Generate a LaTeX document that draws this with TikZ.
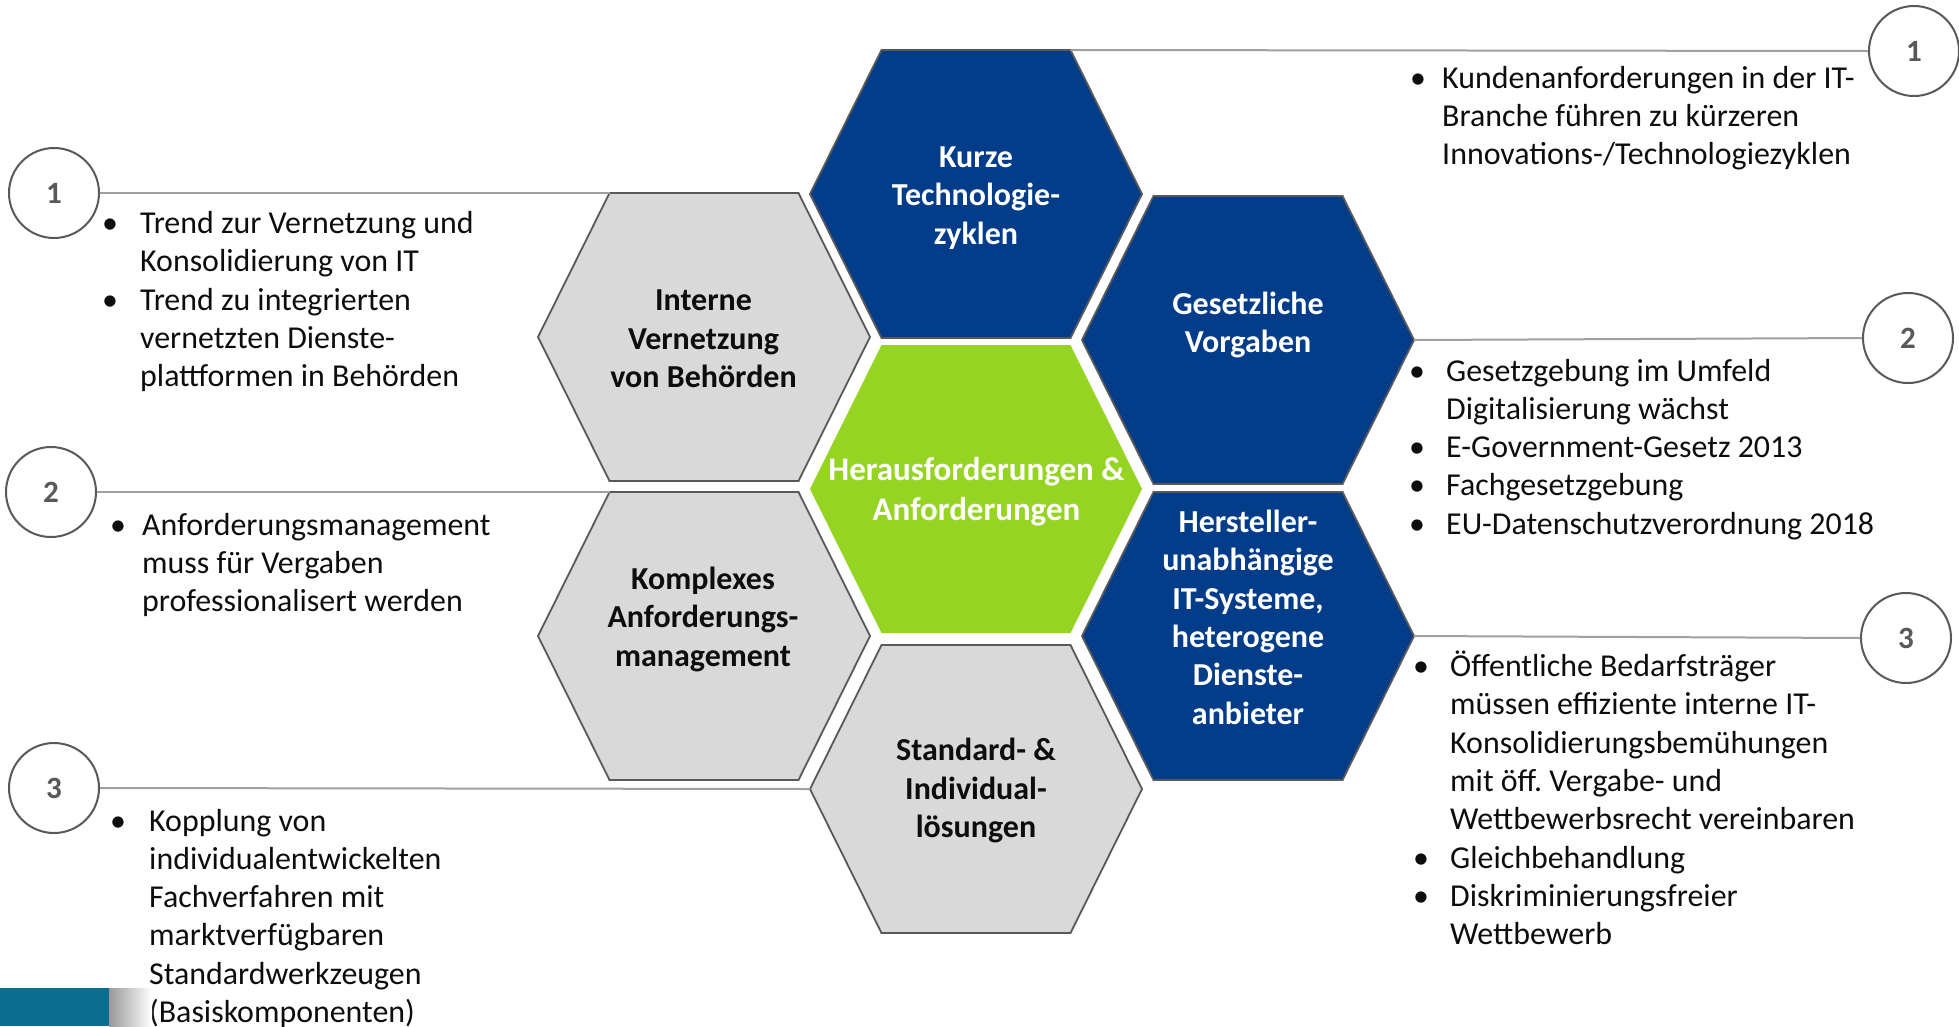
\documentclass[tikz,border=0pt]{standalone}
\usepackage{fontspec}
\setmainfont{Carlito}
\usetikzlibrary{calc}
\frenchspacing
\definecolor{hexblue}{RGB}{3,60,136}
\definecolor{hexgreen}{RGB}{150,212,36}
\definecolor{hexgrey}{RGB}{217,217,217}
\definecolor{edgegrey}{RGB}{89,89,89}
\definecolor{linegrey}{RGB}{160,160,160}
\definecolor{barteal}{RGB}{11,110,143}
\definecolor{txtblack}{RGB}{13,13,13}
\newcommand{\hexcell}[4]{%
  \path[#4] ({#2-166},{#3}) -- ({#2-94.5},{#3-144}) -- ({#2+94.5},{#3-144}) -- ({#2+166},{#3}) -- ({#2+94.5},{#3+144}) -- ({#2-94.5},{#3+144}) -- cycle;
  \coordinate (#1-l) at ({#2-166},{#3});
  \coordinate (#1-r) at ({#2+166},{#3});
  \coordinate (#1-tl) at ({#2-94.5},{#3-144});
  \coordinate (#1-tr) at ({#2+94.5},{#3-144});
}
\tikzset{
  bluehex/.style={fill=hexblue, draw=edgegrey, line width=1.8pt, line join=miter},
  greyhex/.style={fill=hexgrey, draw=edgegrey, line width=1.8pt, line join=miter},
  greenhex/.style={fill=hexgreen},
  hextitle/.style={align=center, inner sep=0pt, anchor=base, font=\fontsize{32}{38.3}\selectfont\bfseries},
  greentitle/.style={align=center, inner sep=0pt, anchor=base, font=\fontsize{33}{40}\selectfont\bfseries, text=white},
  bultext/.style={inner sep=0pt, anchor=base west, font=\fontsize{31.9}{38.3}\selectfont\frenchspacing, text=txtblack},
  numcircle/.style={circle, draw=edgegrey, line width=2pt, minimum size=90pt, inner sep=0pt, font=\fontsize{31}{36}\selectfont\bfseries, text=edgegrey},
  leader/.style={draw=linegrey, line width=2pt}
}
\begin{document}
\begin{tikzpicture}[x=1pt, y=-1pt]
\useasboundingbox (0,0) rectangle (1959,1026);
\fill[white] (0,0) rectangle (1959,1026);

% hexagons
\hexcell{kurze}{976}{194}{bluehex}
\hexcell{green}{976}{489}{greenhex}
\hexcell{standard}{976}{789}{greyhex}
\hexcell{interne}{704}{337}{greyhex}
\hexcell{komplex}{704}{636}{greyhex}
\hexcell{gesetz}{1248}{340}{bluehex}
\hexcell{herst}{1248}{636}{bluehex}

% hexagon titles (anchored at the baseline of the last line)
\node[hextitle, text=white] (t-kurze) at (976,244) {Kurze\\Technologie-\\zyklen};
\node[hextitle, text=white] (t-gesetz) at (1248,352.5) {Gesetzliche\\Vorgaben};
\node[hextitle, text=txtblack] (t-interne) at (703.5,387.5) {Interne\\Vernetzung\\von Behörden};
\node[hextitle, text=txtblack] (t-komplex) at (703,666) {Komplexes\\Anforderungs-\\management};
\node[greentitle] (t-green) at (976.5,520) {Herausforderungen \&\\Anforderungen};
\node[hextitle, text=white] (t-herst) at (1248,724) {Hersteller-\\unabhängige\\IT-Systeme,\\heterogene\\Dienste-\\anbieter};
\node[hextitle, text=txtblack] (t-standard) at (976,837.5) {Standard- \&\\Individual-\\lösungen};

% number circles
\node[numcircle] (l1) at (54,193) {1};
\node[numcircle] (l2) at (51,492) {2};
\node[numcircle] (l3) at (54,788) {3};
\node[numcircle] (r1) at (1914,51) {1};
\node[numcircle] (r2) at (1908,338) {2};
\node[numcircle] (r3) at (1906,638) {3};

% leader lines
\draw[leader] (l1.east) -- (interne-tl);
\draw[leader] (l2.east) -- (komplex-tl);
\draw[leader] (l3.east) -- (standard-l);
\draw[leader] (kurze-tr) -- (r1.west);
\draw[leader] (gesetz-r) -- (r2.west);
\draw[leader] (herst-r) -- (r3.west);

% bullet texts
\node[bultext] (b-l1) at (102,233.5) {\begin{tabular}[t]{@{}p{38pt}@{}l@{}}
• & Trend zur Vernetzung und\\
  & Konsolidierung von IT\\
• & Trend zu integrierten\\
  & vernetzten Dienste-\\
  & plattformen in Behörden
\end{tabular}};
\node[bultext] (b-l2) at (110,535) {\begin{tabular}[t]{@{}p{32pt}@{}l@{}}
• & Anforderungsmanagement\\
  & muss für Vergaben\\
  & professionalisert werden
\end{tabular}};
\node[bultext] (b-l3) at (110,831) {\begin{tabular}[t]{@{}p{39pt}@{}l@{}}
• & Kopplung von\\
  & individualentwickelten\\
  & Fachverfahren mit\\
  & marktverfügbaren\\
  & Standardwerkzeugen\\
  & (Basiskomponenten)
\end{tabular}};
\node[bultext] (b-r1) at (1410,88) {\begin{tabular}[t]{@{}p{32pt}@{}l@{}}
• & Kundenanforderungen in der IT-\\
  & Branche führen zu kürzeren\\
  & Innovations-/Technologiezyklen
\end{tabular}};
\node[bultext] (b-r2) at (1409,381) {\begin{tabular}[t]{@{}p{37pt}@{}l@{}}
• & Gesetzgebung im Umfeld\\
  & Digitalisierung wächst\\
• & E-Government-Gesetz 2013\\
• & Fachgesetzgebung\\
• & EU-Datenschutzverordnung 2018
\end{tabular}};
\node[bultext] (b-r3) at (1413,676.5) {\begin{tabular}[t]{@{}p{37pt}@{}l@{}}
• & Öffentliche Bedarfsträger\\
  & müssen effiziente interne IT-\\
  & Konsolidierungsbemühungen\\
  & mit öff. Vergabe- und\\
  & Wettbewerbsrecht vereinbaren\\
• & Gleichbehandlung\\
• & Diskriminierungsfreier\\
  & Wettbewerb
\end{tabular}};

% bottom-left bar with fading shadow
\shade[left color=black!40, right color=white] (109,988) rectangle (152,1026);
\fill[barteal] (0,988) rectangle (109,1026);
\end{tikzpicture}
\end{document}
